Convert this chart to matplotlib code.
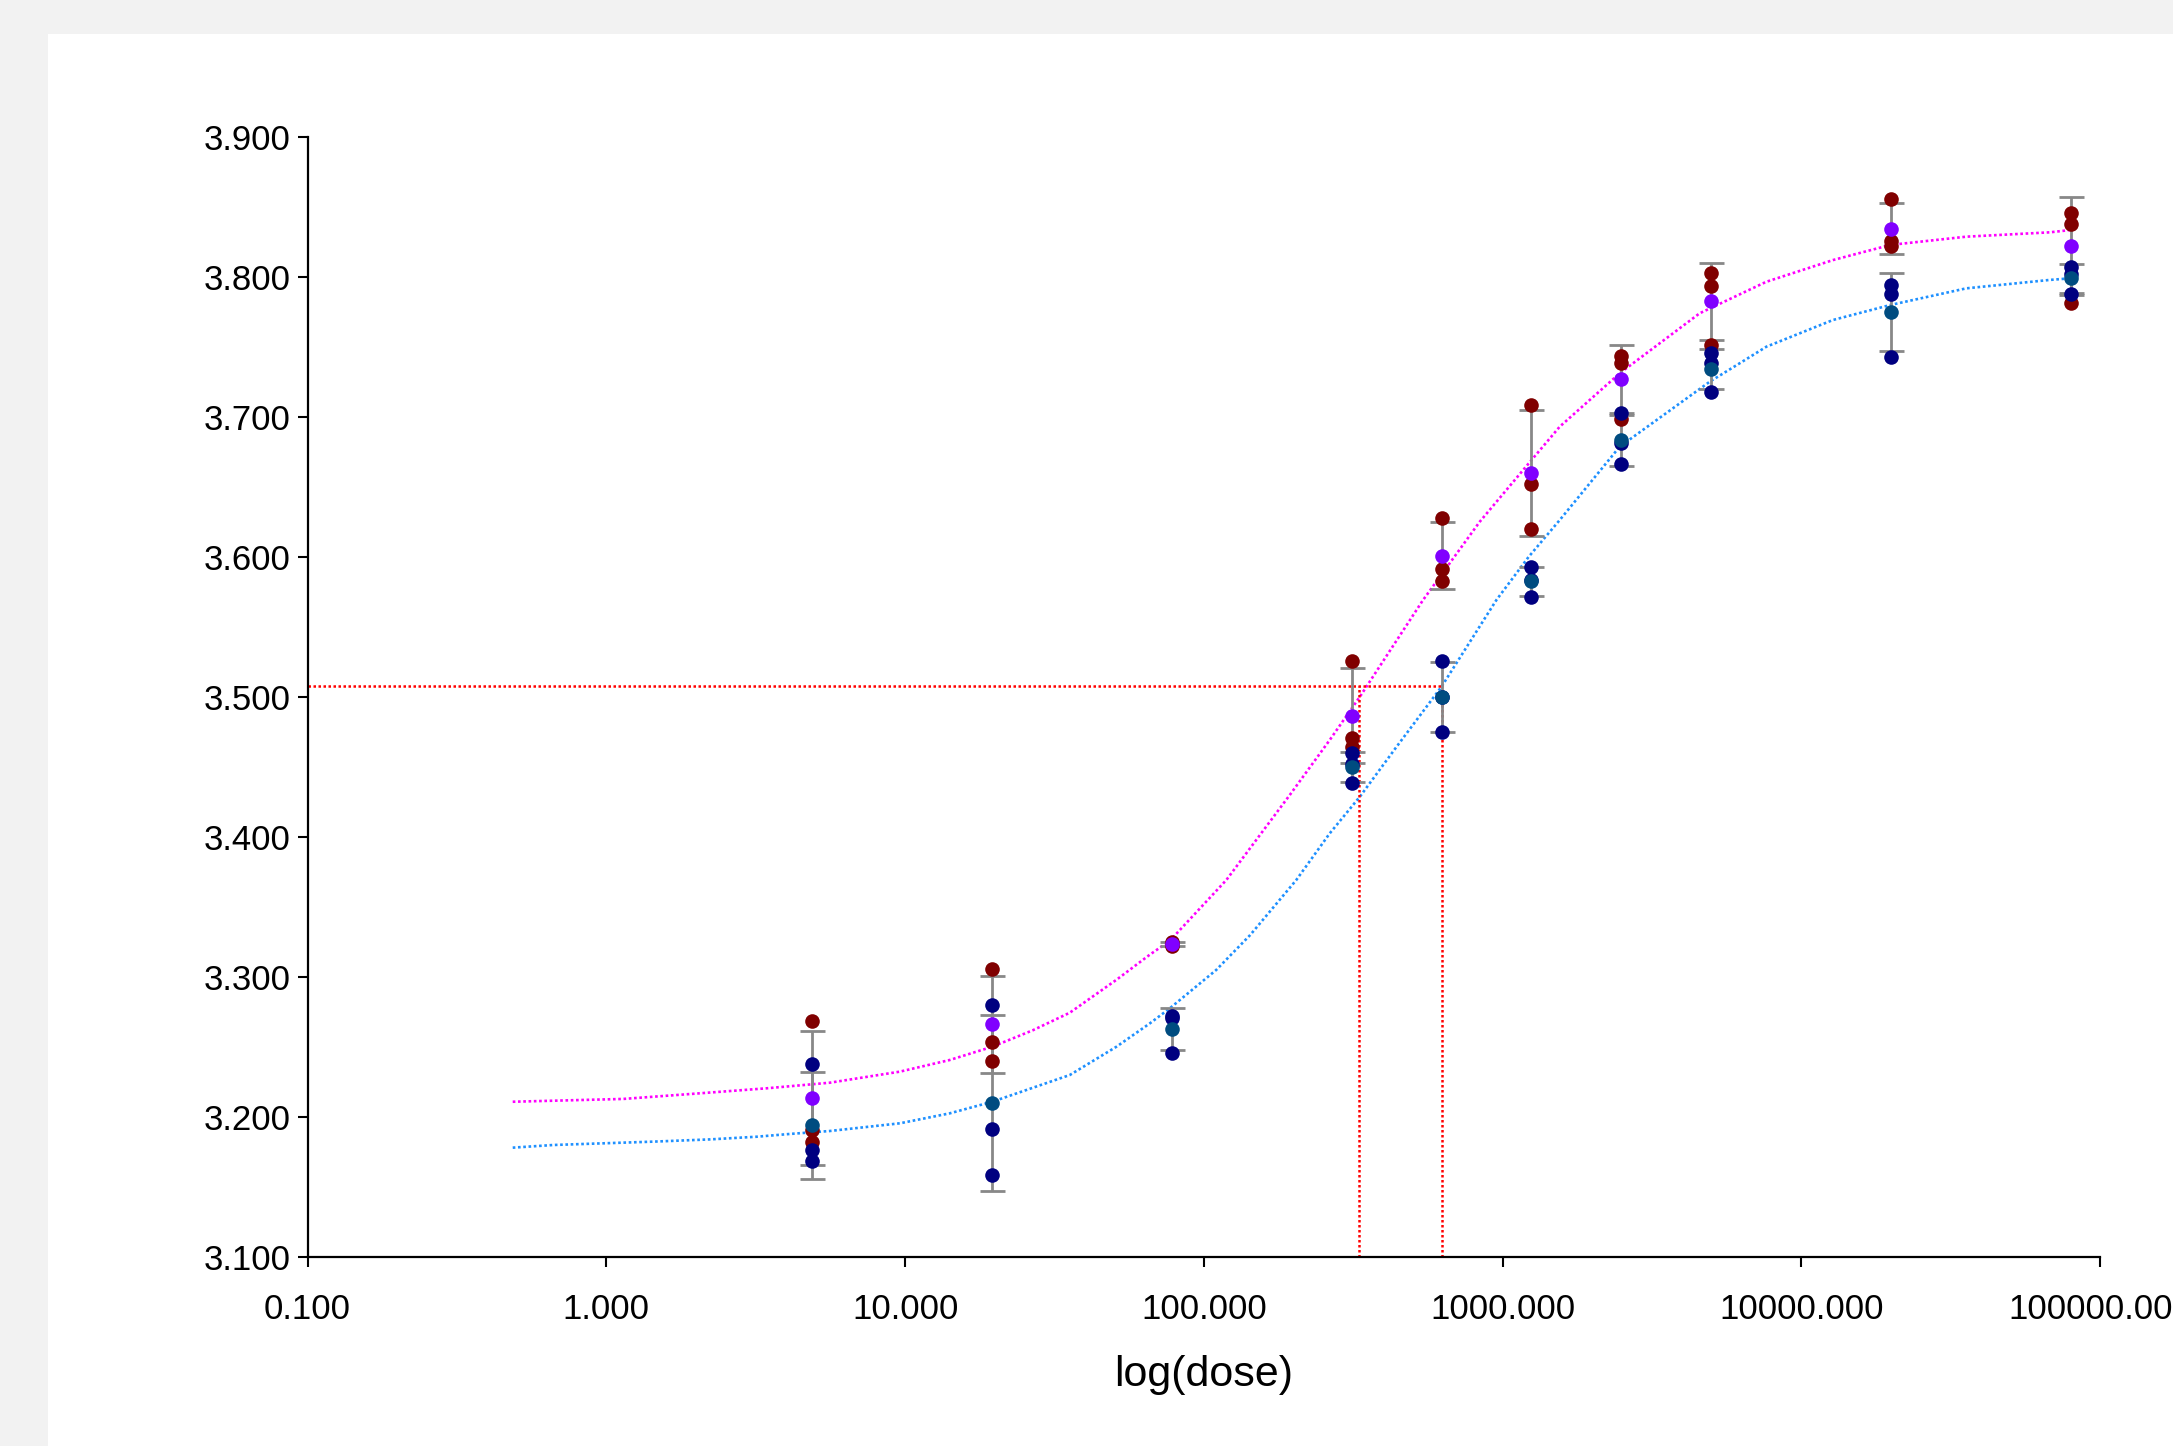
import numpy as np
import matplotlib
matplotlib.use("Agg")
import matplotlib.pyplot as plt
from matplotlib.patches import Rectangle
from matplotlib.ticker import FuncFormatter, NullLocator, FixedLocator

plt.rcParams['font.family'] = ['Liberation Sans', 'DejaVu Sans']

# dose levels
doses = [4.8828, 19.531, 78.125, 312.5, 625, 1250, 2500, 5000, 20000, 80000]

# replicates, group 1 (dark red) and group 2 (navy)
rep1 = [
    [3.2688, 3.1907, 3.1819],
    [3.3055, 3.2534, 3.2398],
    [3.3225, 3.3236, 3.3247],
    [3.5257, 3.4705, 3.4640],
    [3.6281, 3.5912, 3.5831],
    [3.7088, 3.6520, 3.6198],
    [3.7434, 3.7385, 3.6989],
    [3.8031, 3.7934, 3.7516],
    [3.8555, 3.8259, 3.8221],
    [3.8459, 3.8379, 3.7817],
]
rep2 = [
    [3.2379, 3.1762, 3.1683],
    [3.2802, 3.1914, 3.1588],
    [3.2707, 3.2455, 3.2725],
    [3.4598, 3.4388, 3.4520],
    [3.5255, 3.4748, 3.4997],
    [3.5926, 3.5836, 3.5716],
    [3.7026, 3.6816, 3.6662],
    [3.7455, 3.7384, 3.7181],
    [3.7941, 3.7876, 3.7431],
    [3.8074, 3.7876, 3.8023],
]

# fitted curves
fit1_dose = [0.486, 1.139, 1.905, 3.44, 5.60, 9.61, 14.1, 19.6, 26.8, 35.6, 51.0, 66.0, 76.9,
             119, 194, 264, 333, 542, 839, 1224, 1554, 2467, 4571, 7641, 12770,
             19870, 35680, 67830, 80000]
fit1_resp = [3.2109, 3.2129, 3.2164, 3.2205, 3.2245, 3.2324, 3.2407, 3.2502, 3.2620, 3.2745,
             3.2980, 3.3160, 3.3258, 3.3693, 3.4300, 3.4693, 3.5002, 3.5693, 3.6252, 3.6669,
             3.6931, 3.7312, 3.7741, 3.7966, 3.8121, 3.8229, 3.8288, 3.8319, 3.8336]
fit2_dose = [0.486, 0.664, 1.435, 2.222, 3.18, 4.12, 5.60, 9.61, 14.1, 19.6, 35.6, 51.0,
             66.0, 76.9, 110, 143, 204, 264, 333, 442, 625, 954, 1224, 1554, 2467,
             4938, 6223, 7641, 12770, 19870, 35680, 67830, 80000]
fit2_resp = [3.1781, 3.1800, 3.1824, 3.1840, 3.1859, 3.1879, 3.1900, 3.1955, 3.2026, 3.2109,
             3.2300, 3.2502, 3.2669, 3.2776, 3.3050, 3.3300, 3.3693, 3.4026, 3.4288, 3.4645,
             3.5074, 3.5693, 3.6002, 3.6264, 3.6788, 3.7252, 3.7384, 3.7502, 3.7693,
             3.7800, 3.7919, 3.7979, 3.7991]

# reference response and the doses where the curves cross it
ref_resp = 3.508
ref_doses = [331, 628]

xticks = [0.1, 1, 10, 100, 1000, 10000, 100000]
yticks = [3.1, 3.2, 3.3, 3.4, 3.5, 3.6, 3.7, 3.8, 3.9]

mean1 = [np.mean(r) for r in rep1]
sd1 = [np.std(r, ddof=1) for r in rep1]
mean2 = [np.mean(r) for r in rep2]
sd2 = [np.std(r, ddof=1) for r in rep2]

fig = plt.figure(figsize=(21.73, 14.46), dpi=100, facecolor='#f2f2f2')
# white panel behind the chart
fig.add_artist(Rectangle((48 / 2173, 0), 1, 1 - 34 / 1446, transform=fig.transFigure,
                         facecolor='white', edgecolor='none', zorder=-10))
ax = fig.add_axes([307.6 / 2173, 1 - 1257 / 1446, (2100 - 307.6) / 2173, (1257 - 137) / 1446])
ax.set_facecolor('none')
ax.set_zorder(1)

dot = (1, 1)
ax.plot(fit1_dose, fit1_resp, color='#ff00ff', lw=1.9, dashes=dot, zorder=1)
ax.plot(fit2_dose, fit2_resp, color='#1e90ff', lw=1.9, dashes=dot, zorder=1)

# reference lines
ax.plot([0.1, ref_doses[1]], [ref_resp, ref_resp], color='red', lw=1.8, dashes=dot, zorder=2)
for d in ref_doses:
    ax.plot([d, d], [3.1, ref_resp], color='red', lw=1.8, dashes=dot, zorder=2)

# error bars (mean +/- SD)
for m, s in ((mean1, sd1), (mean2, sd2)):
    ax.errorbar(doses, m, yerr=s, fmt='none', ecolor='#888888', elinewidth=2,
                capsize=9, capthick=2, zorder=3)

ms = 10.5
for i, d in enumerate(doses):
    ax.plot([d] * 3, rep1[i], 'o', color='#800000', ms=ms, mew=0, zorder=4)
ax.plot(doses, mean1, 'o', color='#8000ff', ms=ms, mew=0, zorder=5)
for i, d in enumerate(doses):
    ax.plot([d] * 3, rep2[i], 'o', color='#000080', ms=ms, mew=0, zorder=6)
ax.plot(doses, mean2, 'o', color='#004c80', ms=ms, mew=0, zorder=7)

ax.set_xscale('log')
ax.set_xlim(0.1, 100000)
ax.set_ylim(3.1, 3.9)
ax.xaxis.set_major_locator(FixedLocator(xticks))
ax.xaxis.set_minor_locator(NullLocator())
ax.xaxis.set_major_formatter(FuncFormatter(lambda v, p: '%.3f' % v))
ax.set_yticks(yticks)
ax.yaxis.set_major_formatter(FuncFormatter(lambda v, p: '%.3f' % v))

for side in ('top', 'right'):
    ax.spines[side].set_visible(False)
for side in ('left', 'bottom'):
    ax.spines[side].set_linewidth(1.6)
    ax.spines[side].set_color('black')

ax.tick_params(axis='both', direction='out', length=7, width=1.5, labelsize=25, colors='black')
ax.tick_params(axis='x', pad=19)
ax.tick_params(axis='y', pad=5)

ax.set_xlabel('log(dose)', fontsize=31, labelpad=21)

fig.savefig('out.png', dpi=100, facecolor=fig.get_facecolor())
